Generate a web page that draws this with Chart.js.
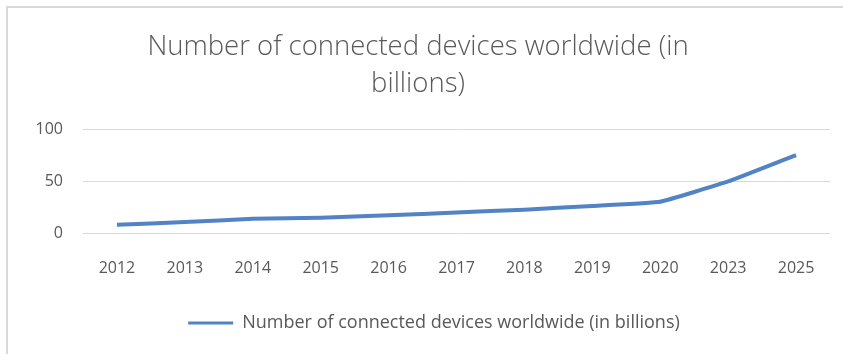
<!DOCTYPE html>
<html>
<head>
<meta charset="utf-8">
<script src="https://cdn.jsdelivr.net/npm/chart.js"></script>
<style>
  body { margin: 0; background: #fff; }
  #wrap { position: relative; width: 843px; height: 354px; }
  #frame { position: absolute; left: 6px; top: 6px; right: 0; bottom: 0;
           border-top: 2px solid #d9d9d9; border-left: 2px solid #d9d9d9; }
  canvas { position: absolute; left: 0; top: 0; }
</style>
</head>
<body>
<div id="wrap">
  <div id="frame"></div>
  <canvas id="myChart" width="843" height="354"></canvas>
</div>
<script>
const years = ['2012', '2013', '2014', '2015', '2016', '2017', '2018', '2019', '2020', '2023', '2025'];
const devices = [8.7, 11.2, 14.4, 15.4, 17.7, 20.4, 23.1, 26.7, 30.7, 50.1, 75.4];
const yTicks = [0, 50, 100];
const seriesName = 'Number of connected devices worldwide (in billions)';

const textColor = '#595959';
const lineColor = '#5283c4';

// legend sits a bit right of centre in the original
const shiftLegend = {
  id: 'shiftLegend',
  afterLayout(chart) {
    chart.legend.left += 16;
    chart.legend.right += 16;
  }
};

const ctx = document.getElementById('myChart');
new Chart(ctx, {
  type: 'line',
  data: {
    labels: years,
    datasets: [{
      label: seriesName,
      data: devices,
      borderColor: lineColor,
      backgroundColor: lineColor,
      borderWidth: 4,
      pointRadius: 0,
      tension: 0.1,
      fill: false
    }]
  },
  plugins: [shiftLegend],
  options: {
    responsive: false,
    animation: false,
    layout: { padding: { left: 6, right: 13, top: 0, bottom: 12 } },
    plugins: {
      title: {
        display: true,
        text: ['Number of connected devices worldwide (in', 'billions)'],
        color: textColor,
        font: { family: 'Open Sans', size: 27.5, weight: '300', lineHeight: 1.37 },
        padding: { top: 28, bottom: 26 }
      },
      legend: {
        position: 'bottom',
        labels: {
          color: textColor,
          font: { family: 'Open Sans', size: 18 },
          boxWidth: 45,
          boxHeight: 3,
          padding: 6,
          generateLabels: (chart) => {
            const items = Chart.defaults.plugins.legend.labels.generateLabels(chart);
            items.forEach(it => { it.lineWidth = 0; });
            return items;
          }
        }
      },
      tooltip: { enabled: false }
    },
    scales: {
      x: {
        offset: true,
        grid: { display: false },
        border: { display: false },
        afterFit: (scale) => { scale.height += 13; },
        ticks: { color: textColor, font: { family: 'Open Sans', size: 16 }, padding: 17 }
      },
      y: {
        min: 0,
        max: 100,
        afterBuildTicks: (scale) => { scale.ticks = yTicks.map(v => ({ value: v })); },
        afterFit: (scale) => { scale.width = 77; },
        grid: { color: '#d9d9d9', lineWidth: 1, drawTicks: false },
        border: { display: false },
        ticks: { color: textColor, font: { family: 'Open Sans', size: 16 }, padding: 20 }
      }
    }
  }
});
</script>
</body>
</html>
